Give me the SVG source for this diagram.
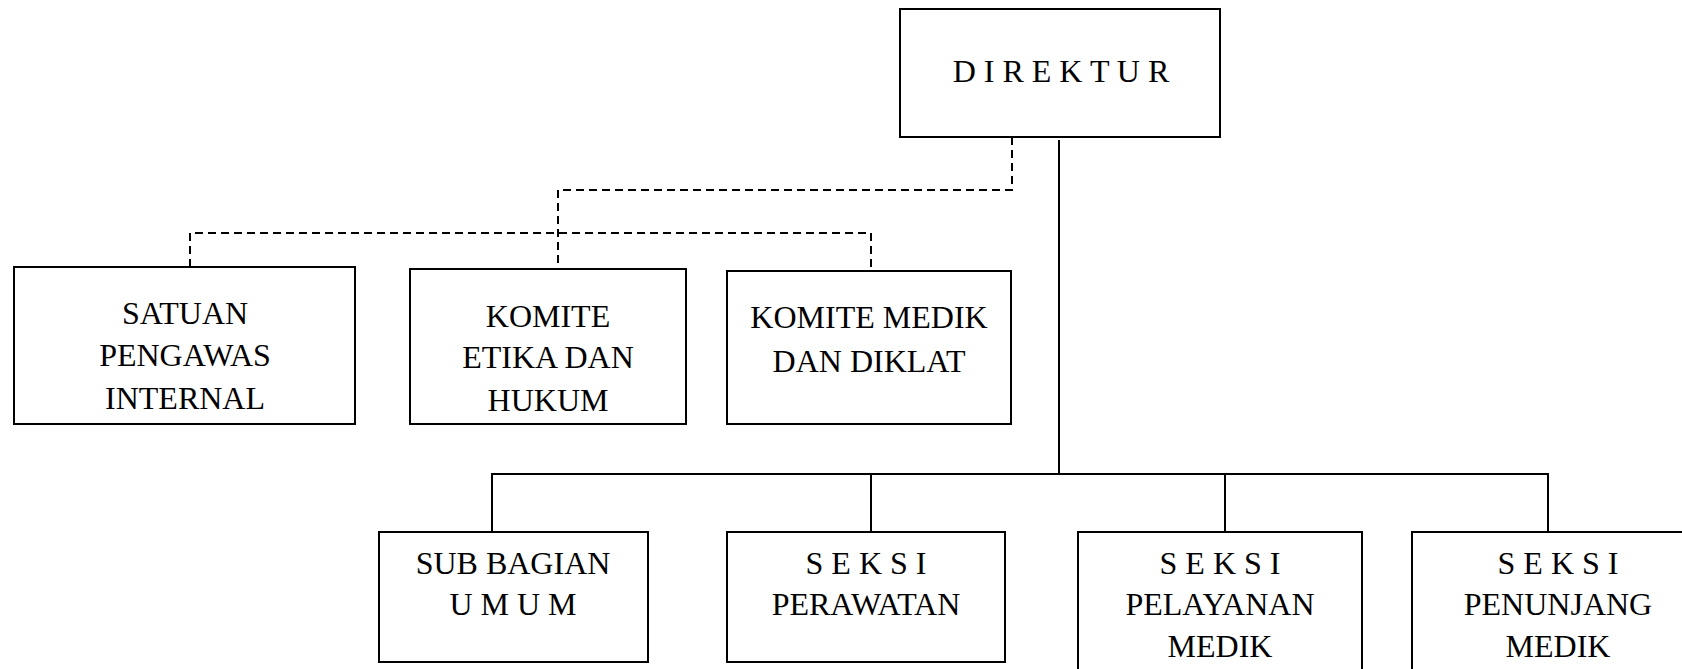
<svg xmlns="http://www.w3.org/2000/svg" width="1682" height="669" viewBox="0 0 1682 669">
<style>
.box{fill:#fff;stroke:#000;stroke-width:2}
.t{font-family:"Liberation Serif","Times New Roman",serif;font-size:32px;fill:#000;text-anchor:middle}
.solid{fill:none;stroke:#000;stroke-width:2}
.dash{fill:none;stroke:#000;stroke-width:2;stroke-dasharray:8 5}
</style>
<rect width="1682" height="669" fill="#fff"/>
<g id="connectors">
<path class="dash" d="M1012 137 V190 H558 V269"/>
<path class="dash" d="M190 267 V233 H871 V271"/>
<path class="solid" d="M1059 140 V474"/>
<path class="solid" d="M492 532 V474 H1548 V532"/>
<path class="solid" d="M871 474 V532"/>
<path class="solid" d="M1225 474 V532"/>
</g>
<g id="direktur">
<rect class="box" x="900" y="9" width="320" height="128"/>
<text class="t" x="1061" y="82">D I R E K T U R</text>
</g>
<g id="satuan">
<rect class="box" x="14" y="267" width="341" height="157"/>
<text class="t" x="185" y="324">SATUAN</text>
<text class="t" x="185" y="366">PENGAWAS</text>
<text class="t" x="185" y="409">INTERNAL</text>
</g>
<g id="komite-etika">
<rect class="box" x="410" y="269" width="276" height="155"/>
<text class="t" x="548" y="327">KOMITE</text>
<text class="t" x="548" y="368">ETIKA DAN</text>
<text class="t" x="548" y="411">HUKUM</text>
</g>
<g id="komite-medik">
<rect class="box" x="727" y="271" width="284" height="153"/>
<text class="t" x="869" y="328">KOMITE MEDIK</text>
<text class="t" x="869" y="372">DAN DIKLAT</text>
</g>
<g id="sub-bagian">
<rect class="box" x="379" y="532" width="269" height="130"/>
<text class="t" x="513" y="574">SUB BAGIAN</text>
<text class="t" x="513" y="615">U M U M</text>
</g>
<g id="seksi-perawatan">
<rect class="box" x="727" y="532" width="278" height="130"/>
<text class="t" x="866" y="574">S E K S I</text>
<text class="t" x="866" y="615">PERAWATAN</text>
</g>
<g id="seksi-pelayanan">
<rect class="box" x="1078" y="532" width="284" height="160"/>
<text class="t" x="1220" y="574">S E K S I</text>
<text class="t" x="1220" y="615">PELAYANAN</text>
<text class="t" x="1220" y="657">MEDIK</text>
</g>
<g id="seksi-penunjang">
<rect class="box" x="1412" y="532" width="292" height="160"/>
<text class="t" x="1558" y="574">S E K S I</text>
<text class="t" x="1558" y="615">PENUNJANG</text>
<text class="t" x="1558" y="657">MEDIK</text>
</g>
</svg>
